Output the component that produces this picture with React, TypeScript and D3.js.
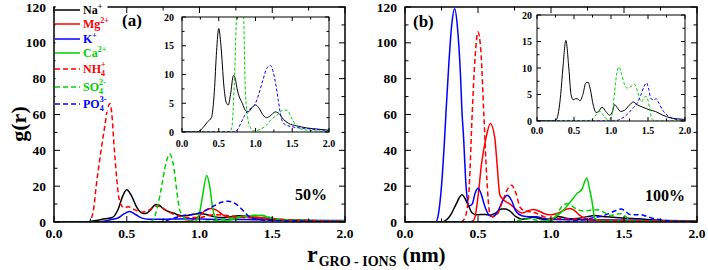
import React from 'react';
import * as d3 from 'd3';

type Pt = [number, number];

// Tick values
const xTickVals = [0, 0.5, 1.0, 1.5, 2.0];
const yTickMain = [0, 20, 40, 60, 80, 100, 120];
const yTickInset = [0, 5, 10, 15, 20];

// ---- 50% system: g(r) samples (r in nm) ----
const na50: Pt[] = [[0,0],[0.2,0],[0.25,0.3],[0.3,1],[0.35,1.8],[0.4,2.5],[0.44,7],[0.47,14],[0.5,18],[0.53,15],[0.57,8],[0.6,5.2],[0.63,4.7],[0.66,6.5],[0.7,9.8],[0.72,9.5],[0.75,7.5],[0.78,6.1],[0.82,5],[0.86,3.8],[0.9,3.5],[0.95,4.2],[1.0,4.7],[1.04,4.3],[1.1,3],[1.15,2.5],[1.2,2.8],[1.27,3.5],[1.32,3.2],[1.38,2.2],[1.45,1.5],[1.55,1.1],[1.7,0.7],[1.85,0.5],[2.0,0.3]];
const mg50: Pt[] = [[0,0],[0.85,0],[0.9,0.3],[0.95,1],[1.0,3.5],[1.04,6.5],[1.08,7.6],[1.12,6.5],[1.16,4],[1.2,2.6],[1.25,2.4],[1.3,2.8],[1.36,3],[1.42,2.5],[1.5,1.8],[1.6,1.2],[1.75,0.8],[2.0,0.5]];
const k50: Pt[] = [[0,0],[0.3,0],[0.35,0.5],[0.4,1.5],[0.44,2.2],[0.48,4.5],[0.52,5.8],[0.56,4.2],[0.6,2.3],[0.65,1.5],[0.75,1.5],[0.85,1.7],[0.95,1.8],[1.05,1.6],[1.2,1.4],[1.4,1.3],[1.6,1.1],[1.8,0.9],[2.0,0.8]];
const ca50: Pt[] = [[0,0],[0.95,0],[0.98,1],[1.0,5],[1.02,14],[1.05,26],[1.07,20],[1.09,8],[1.11,2],[1.14,0.3],[1.2,1],[1.28,2.5],[1.35,3.5],[1.42,3.6],[1.48,2.5],[1.55,1.5],[1.7,1],[2.0,0.7]];
const nh450: Pt[] = [[0,0],[0.24,0],[0.27,6],[0.29,20],[0.32,38],[0.35,54],[0.37,64],[0.385,66],[0.4,58],[0.41,46],[0.43,25],[0.45,12],[0.48,8],[0.51,8.5],[0.55,7],[0.6,5.5],[0.65,6.5],[0.7,9],[0.73,8.5],[0.78,6],[0.85,3.5],[0.92,2.5],[1.0,2.5],[1.1,4],[1.2,3.5],[1.3,2.5],[1.45,2],[1.6,1.2],[1.8,0.8],[2.0,0.5]];
const so450: Pt[] = [[0,0],[0.65,0],[0.68,1],[0.71,8],[0.74,20],[0.77,33],[0.795,38],[0.82,32],[0.84,20],[0.86,8],[0.88,4],[0.9,2],[0.93,0.8],[0.97,0.2],[1.05,0.4],[1.15,1.2],[1.2,2],[1.3,3],[1.38,3.8],[1.43,3.8],[1.5,2.2],[1.55,1.2],[1.62,0.5],[1.8,0.2],[2.0,0.1]];
const po450: Pt[] = [[0,0],[0.72,0],[0.76,0.5],[0.8,1.5],[0.85,2.8],[0.9,3.8],[0.95,4.2],[1.0,5],[1.05,6.8],[1.1,9],[1.15,11],[1.2,11.6],[1.24,10.5],[1.28,8],[1.31,5.5],[1.35,2.5],[1.4,1.3],[1.5,0.9],[1.7,0.6],[1.85,0.4],[2.0,0.3]];

// ---- 100% system ----
const na100: Pt[] = [[0,0],[0.24,0],[0.27,0.5],[0.3,2.5],[0.32,5],[0.35,10],[0.39,15.2],[0.43,10],[0.46,5],[0.49,4],[0.52,4.2],[0.55,4.2],[0.58,3.8],[0.62,5],[0.66,7.2],[0.69,7.3],[0.72,6],[0.76,3],[0.8,1.6],[0.83,1.8],[0.88,2.6],[0.93,1.8],[0.98,1.1],[1.02,1.8],[1.05,3.1],[1.08,2.6],[1.13,1.8],[1.18,2],[1.25,3],[1.3,3.6],[1.35,3.1],[1.43,2.6],[1.52,2.1],[1.6,1.8],[1.7,1.1],[1.8,0.6],[1.9,0.4],[2.0,0.3]];
const mg100: Pt[] = [[0,0],[0.44,0],[0.47,1],[0.48,3],[0.5,14],[0.525,33],[0.555,47],[0.585,55],[0.615,47],[0.63,33],[0.65,15],[0.68,12],[0.72,10],[0.76,7],[0.8,5],[0.85,6.5],[0.88,7],[0.92,6],[0.96,4.5],[1.0,4],[1.05,5],[1.1,7],[1.13,7.6],[1.16,6.5],[1.2,3.5],[1.25,1.5],[1.3,1],[1.5,0.8],[1.8,0.6],[2.0,0.5]];
const k100: Pt[] = [[0,0],[0.21,0],[0.23,5],[0.25,20],[0.27,45],[0.28,60],[0.3,88],[0.32,110],[0.34,119],[0.36,108],[0.38,82],[0.39,62],[0.4,49],[0.42,18],[0.44,9],[0.46,10],[0.48,16],[0.5,18.8],[0.52,16],[0.55,8],[0.58,3.5],[0.6,3],[0.63,5],[0.67,12],[0.7,15],[0.73,12],[0.76,6],[0.8,3.5],[0.85,3],[0.9,3],[0.95,2],[1.0,1.5],[1.2,1.2],[1.5,1],[1.8,0.8],[2.0,0.6]];
const ca100: Pt[] = [[0,0],[0.9,0],[0.95,0.5],[1.0,1.5],[1.05,4],[1.1,8],[1.15,13],[1.18,16],[1.21,18],[1.245,24.5],[1.265,18],[1.28,12],[1.3,2],[1.34,0.5],[1.5,0.5],[2.0,0.4]];
const nh4100: Pt[] = [[0,0],[0.38,0],[0.4,1],[0.42,5],[0.44,20],[0.46,60],[0.48,92],[0.5,106],[0.52,95],[0.54,60],[0.56,25],[0.58,5],[0.6,3],[0.63,4],[0.67,12],[0.7,18],[0.73,20.5],[0.76,16],[0.79,8],[0.83,6],[0.88,5.5],[0.95,3],[1.0,2],[1.1,2],[1.2,1.5],[1.4,1],[1.7,0.7],[2.0,0.5]];
const so4100: Pt[] = [[0,0],[0.72,0],[0.76,0.5],[0.8,1.2],[0.85,1.8],[0.9,1],[0.95,0.3],[1.0,0.5],[1.03,3],[1.06,7],[1.09,9.8],[1.11,10.2],[1.14,9],[1.18,7],[1.22,6.2],[1.27,6.5],[1.32,6.9],[1.36,5.5],[1.41,3.6],[1.45,4.5],[1.48,4.6],[1.52,2.5],[1.55,0.5],[1.6,0],[2.0,0]];
const po4100: Pt[] = [[0,0],[1.05,0],[1.1,0.2],[1.2,1],[1.3,2.5],[1.35,3.3],[1.4,4.8],[1.45,6.6],[1.48,7.2],[1.51,6],[1.54,4.2],[1.58,4],[1.61,4.2],[1.65,3.3],[1.7,2],[1.77,1],[1.85,0.4],[2.0,0.1]];

// Series styling: Na+, Mg2+, K+, Ca2+, NH4+, SO4 2-, PO4 3-
const seriesColors = ['#000000', '#ff0000', '#0000ff', '#00d000', '#ff0000', '#00d000', '#0000ff'];
const seriesDashed = [false, false, false, false, true, true, true];
const data50 = [na50, mg50, k50, ca50, nh450, so450, po450];
const data100 = [na100, mg100, k100, ca100, nh4100, so4100, po4100];
// Insets show Na+, SO4 2- and PO4 3-
const insetSeries = [0, 5, 6];

const FONT = "'Liberation Serif', 'Times New Roman', serif";

type Box = { x0: number; x1: number; y0: number; y1: number };

function Ticks({ box, xs, ys, xMinor, yMinor, maj, min, sx, sy }: any) {
  const segs: JSX.Element[] = [];
  let k = 0;
  const push = (x1: number, y1: number, x2: number, y2: number) =>
    segs.push(<line key={k++} x1={x1} y1={y1} x2={x2} y2={y2} stroke="#000" strokeWidth={1} />);
  xs.forEach((v: number) => {
    const x = sx(v);
    push(x, box.y1, x, box.y1 - maj);
    push(x, box.y0, x, box.y0 + maj);
  });
  xMinor.forEach((v: number) => {
    const x = sx(v);
    push(x, box.y1, x, box.y1 - min);
    push(x, box.y0, x, box.y0 + min);
  });
  ys.forEach((v: number) => {
    const y = sy(v);
    push(box.x0, y, box.x0 + maj, y);
    push(box.x1, y, box.x1 - maj, y);
  });
  yMinor.forEach((v: number) => {
    const y = sy(v);
    push(box.x0, y, box.x0 + min, y);
    push(box.x1, y, box.x1 - min, y);
  });
  return <g>{segs}</g>;
}

function Panel({ id, data, main, inset, insetXLabelY, insetYLabelGap, tag, tagX, tagY, pct, pctX, pctY }: any) {
  const sx = d3.scaleLinear().domain([0, 2]).range([main.x0, main.x1]);
  const sy = d3.scaleLinear().domain([0, 120]).range([main.y1, main.y0]);
  const ix = d3.scaleLinear().domain([0, 2]).range([inset.x0, inset.x1]);
  const iy = d3.scaleLinear().domain([0, 20]).range([inset.y1, inset.y0]);
  const line = d3.line<Pt>().x(d => sx(d[0])).y(d => sy(d[1])).curve(d3.curveMonotoneX);
  const iline = d3.line<Pt>().x(d => ix(d[0])).y(d => iy(d[1])).curve(d3.curveMonotoneX);
  const xMinor = d3.range(0.25, 2, 0.5);
  const yMinorMain = d3.range(10, 120, 20);
  const yMinorInset = d3.range(2.5, 20, 5);
  return (
    <g>
      <defs>
        <clipPath id={`clip-main-${id}`}>
          <rect x={main.x0} y={main.y0} width={main.x1 - main.x0} height={main.y1 - main.y0} />
        </clipPath>
        <clipPath id={`clip-inset-${id}`}>
          <rect x={inset.x0} y={inset.y0} width={inset.x1 - inset.x0} height={inset.y1 - inset.y0} />
        </clipPath>
      </defs>
      <g clipPath={`url(#clip-main-${id})`}>
        {data.map((s: Pt[], i: number) => (
          <path key={i} d={line(s) || ''} fill="none" stroke={seriesColors[i]} strokeWidth={1.5}
            strokeDasharray={seriesDashed[i] ? '5,3' : undefined} />
        ))}
      </g>
      <rect x={main.x0} y={main.y0} width={main.x1 - main.x0} height={main.y1 - main.y0}
        fill="none" stroke="#000" strokeWidth={1.5} />
      <Ticks box={main} xs={xTickVals} ys={yTickMain} xMinor={xMinor} yMinor={yMinorMain} maj={6} min={3.5} sx={sx} sy={sy} />
      {xTickVals.map(v => (
        <text key={`xt${v}`} x={sx(v)} y={main.y1 + 16} textAnchor="middle" fontFamily={FONT}
          fontWeight="bold" fontSize={13.5}>{v.toFixed(1)}</text>
      ))}
      {yTickMain.map(v => (
        <text key={`yt${v}`} x={main.x0 - 8} y={sy(v) + 4.5} textAnchor="end" fontFamily={FONT}
          fontWeight="bold" fontSize={13.5}>{v}</text>
      ))}

      {/* inset */}
      <rect x={inset.x0} y={inset.y0} width={inset.x1 - inset.x0} height={inset.y1 - inset.y0} fill="#fff" />
      <g clipPath={`url(#clip-inset-${id})`}>
        {insetSeries.map(i => (
          <path key={i} d={iline(data[i]) || ''} fill="none" stroke={seriesColors[i]} strokeWidth={1}
            strokeDasharray={seriesDashed[i] ? '3,2' : undefined} />
        ))}
      </g>
      <rect x={inset.x0} y={inset.y0} width={inset.x1 - inset.x0} height={inset.y1 - inset.y0}
        fill="none" stroke="#000" strokeWidth={1} />
      <Ticks box={inset} xs={xTickVals} ys={yTickInset} xMinor={xMinor} yMinor={yMinorInset} maj={4} min={2.5} sx={ix} sy={iy} />
      {xTickVals.map(v => (
        <text key={`ixt${v}`} x={ix(v)} y={insetXLabelY} textAnchor="middle" fontFamily={FONT}
          fontWeight="bold" fontSize={10}>{v.toFixed(1)}</text>
      ))}
      {yTickInset.map(v => (
        <text key={`iyt${v}`} x={inset.x0 - insetYLabelGap} y={iy(v) + 3.5} textAnchor="end" fontFamily={FONT}
          fontWeight="bold" fontSize={10}>{v}</text>
      ))}

      <text x={tagX} y={tagY} fontFamily={FONT} fontWeight="bold" fontSize={17}>{tag}</text>
      <text x={pctX} y={pctY} textAnchor="end" fontFamily={FONT} fontWeight="bold" fontSize={16}>{pct}</text>
    </g>
  );
}

// Legend rows: label base, subscript, superscript
const legendBase = ['Na', 'Mg', 'K', 'Ca', 'NH', 'SO', 'PO'];
const legendSub = ['', '', '', '', '4', '4', '4'];
const legendSup = ['+', '2+', '+', '2+', '+', '2-', '3-'];
const legendRowY = [10, 24, 39, 53, 69, 87, 104];

function Legend() {
  return (
    <g>
      <rect x={55.5} y={0} width={52} height={112} fill="#fff" />
      {legendBase.map((b, i) => {
        const y = legendRowY[i];
        return (
          <g key={b}>
            <line x1={55} x2={80} y1={y} y2={y} stroke={seriesColors[i]} strokeWidth={1.5}
              strokeDasharray={seriesDashed[i] ? '5,3' : undefined} />
            <text x={83} y={y + 4} fontFamily={FONT} fontWeight="bold" fontSize={12} fill={seriesColors[i]}>
              {b}
              {legendSub[i] ? <tspan fontSize={8} dy={3}>{legendSub[i]}</tspan> : null}
              <tspan fontSize={8} dx={legendSub[i] ? -4 : 0} dy={legendSub[i] ? -9 : -5}>{legendSup[i]}</tspan>
            </text>
          </g>
        );
      })}
    </g>
  );
}

export default function App() {
  const mainA: Box = { x0: 54, x1: 345, y0: 7, y1: 222 };
  const insetA: Box = { x0: 182, x1: 329, y0: 17, y1: 132 };
  const mainB: Box = { x0: 405, x1: 697, y0: 7, y1: 222 };
  const insetB: Box = { x0: 537, x1: 685, y0: 15, y1: 121 };
  return (
    <svg width={708} height={270} style={{ position: 'absolute', left: 0, top: 0, background: '#fff' }}>
      <Panel id="a" data={data50} main={mainA} inset={insetA} insetXLabelY={147} insetYLabelGap={8}
        tag="(a)" tagX={122} tagY={26} pct="50%" pctX={327} pctY={200} />
      <Legend />
      <Panel id="b" data={data100} main={mainB} inset={insetB} insetXLabelY={134} insetYLabelGap={5}
        tag="(b)" tagX={413} tagY={27} pct="100%" pctX={685} pctY={201} />
      <text transform="translate(26,124) rotate(-90)" textAnchor="middle" fontFamily={FONT}
        fontWeight="bold" fontSize={22}>g(r)</text>
      <text x={307} y={262} fontFamily={FONT} fontWeight="bold" fontSize={24}>
        r<tspan fontSize={14} dy={4} dx={1}>GRO - IONS</tspan>
        <tspan fontSize={21} dy={-4} dx={6}>(nm)</tspan>
      </text>
    </svg>
  );
}
